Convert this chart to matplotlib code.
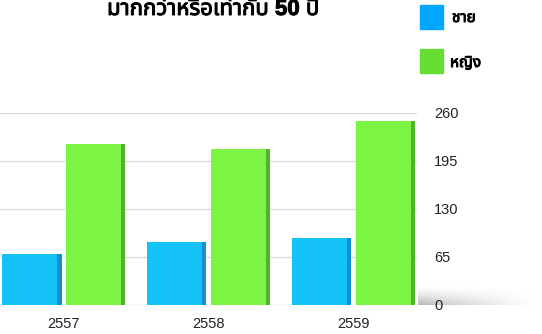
import numpy as np
import matplotlib
matplotlib.use("Agg")
import matplotlib.pyplot as plt
import matplotlib.patheffects as pe
from matplotlib.patches import Rectangle

# ผู้สูงอายุ 50 ปีขึ้นไป แยกตามเพศ
years = ["2557", "2558", "2559"]
male = [69, 85, 90]
female = [218, 211, 249]
yticks = [0, 65, 130, 195, 260]

plt.rcParams['font.family'] = ['Liberation Sans', 'Noto Sans Thai', 'Loma', 'Garuda',
                               'Noto Sans', 'DejaVu Sans']

fig = plt.figure(figsize=(5.42, 3.34), dpi=100)

# floor shadow behind the right side of the plot
sh = fig.add_axes([418 / 542, 29 / 334, 124 / 542, 20 / 334], zorder=0)
gx = np.linspace(1, 0, 200)[None, :] ** 1.3
gy = np.linspace(0, 1, 40)[:, None] ** 1.5
sh.imshow(1 - 0.28 * gx * gy, cmap='gray', vmin=0, vmax=1, aspect='auto')
sh.axis('off')

ax = fig.add_axes([0.0, 0.088, 0.77, 0.575], zorder=1)

x = np.arange(len(years))
w = 0.41
off = 0.22
side = 0.03

blue, blue_side = "#14c2f8", "#1290d0"
green, green_side = "#7cf443", "#4eb52a"

# front faces
ax.bar(x - off, male, w, color=blue, zorder=3)
ax.bar(x + off, female, w, color=green, zorder=3)
# darker right edge gives the bars some depth
ax.bar(x - off + w / 2 - side / 2, male, side, color=blue_side, zorder=4)
ax.bar(x + off + w / 2 - side / 2, female, side, color=green_side, zorder=4)

ax.set_xlim(-0.44, 2.44)
ax.set_ylim(0, 260)
ax.set_yticks(yticks)
ax.yaxis.tick_right()
ax.tick_params(axis='y', length=0, pad=12, labelsize=10.5, labelcolor="#222222")
ax.set_xticks(x)
ax.set_xticklabels(years)
ax.tick_params(axis='x', length=0, pad=9, labelsize=10.5, labelcolor="#222222")
ax.grid(axis='y', color="#dddddd", linewidth=1, zorder=0)
ax.patch.set_alpha(0)
for s in ax.spines.values():
    s.set_visible(False)

bold = [pe.withStroke(linewidth=0.7, foreground='black')]
fig.text(0.393, 1 - 15 / 334, "มากกว่าหรือเท่ากับ 50 ปี", ha='center', va='baseline',
         fontsize=16, fontweight='bold', path_effects=bold)

# legend
fig.patches.append(Rectangle((420 / 542, 1 - 29 / 334), 23 / 542, 24 / 334,
                             transform=fig.transFigure, color="#00a6ff"))
fig.patches.append(Rectangle((420 / 542, 1 - 73 / 334), 23 / 542, 24 / 334,
                             transform=fig.transFigure, color="#66dd33"))
fig.text(452 / 542, 1 - 18 / 334, "ชาย", va='center', fontsize=11, fontweight='bold',
         path_effects=bold)
fig.text(450 / 542, 1 - 63 / 334, "หญิง", va='center', fontsize=11, fontweight='bold',
         path_effects=bold)

fig.savefig("out.png", dpi=100)
